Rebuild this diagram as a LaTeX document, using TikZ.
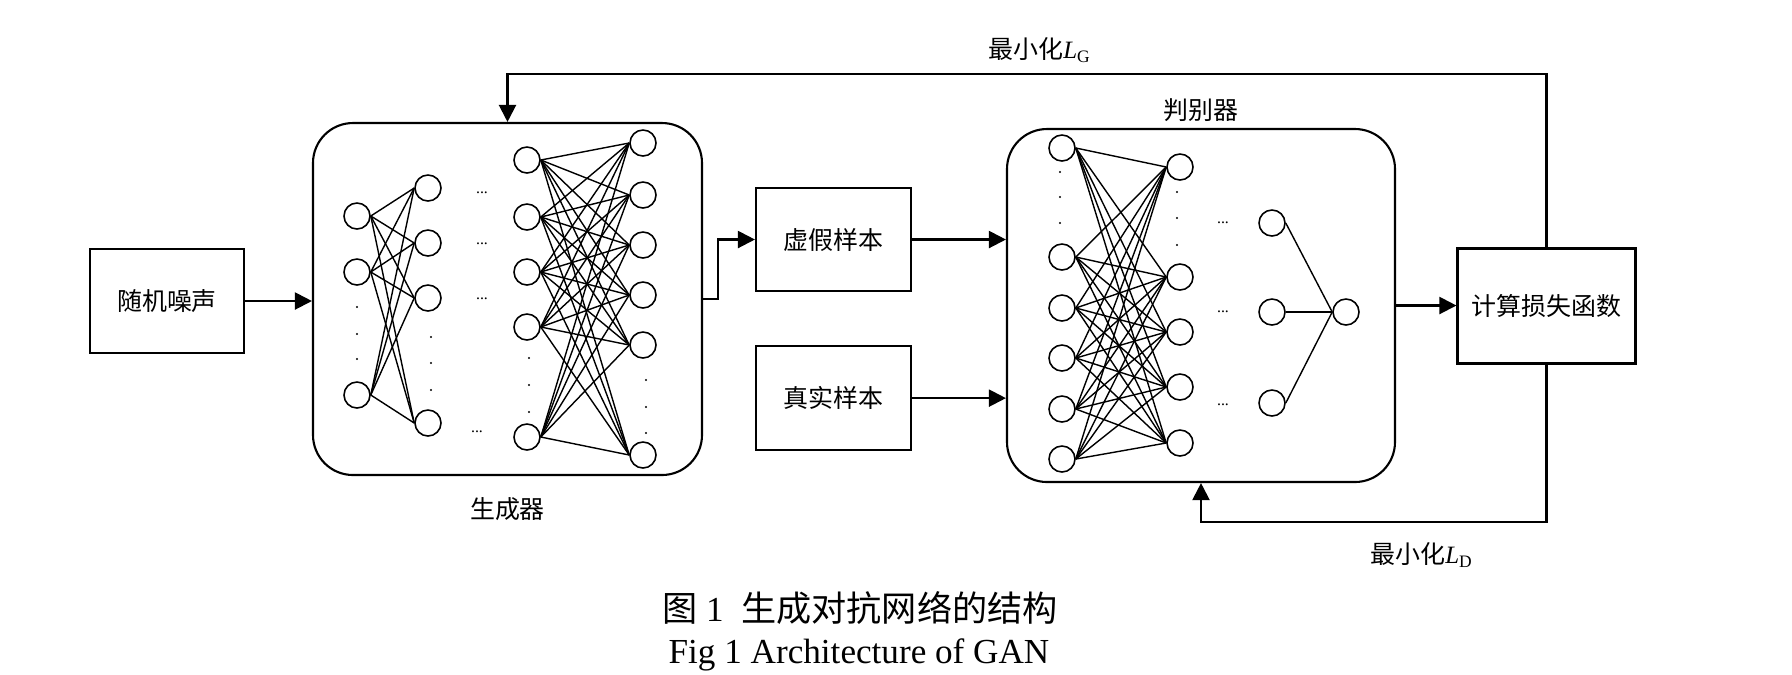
\documentclass[tikz,border=0pt]{standalone}
\usepackage{fontspec}
\setmainfont{Liberation Serif}
\newfontfamily\cjk{Noto Sans CJK SC}
\usepackage{tikz}
\usetikzlibrary{arrows.meta, positioning}

\newcommand{\minloss}[1]{最小化{\rmfamily\itshape L}\textsubscript{\rmfamily #1}}

\begin{document}
\begin{tikzpicture}[
    y=-1cm,
    box/.style={rectangle, draw, line width=0.6pt, inner sep=0pt, font=\cjk\fontsize{7.1}{8}\selectfont},
    net/.style={rectangle, draw, line width=0.6pt, rounded corners=0.4cm, inner sep=0pt},
    neuron/.style={circle, draw, line width=0.45pt, minimum size=0.26cm, inner sep=0pt},
    link/.style={line width=0.4pt},
    tag/.style={inner sep=1pt, font=\cjk\fontsize{7.1}{8}\selectfont},
    hdots/.style={inner sep=0pt, font=\fontsize{4.5}{5}\selectfont},
    caption/.style={inner sep=0pt, font=\fontsize{10}{12}\selectfont},
    arrow/.style={line width=0.6pt, -{Triangle[length=1.7mm, width=1.7mm]}},
]
\useasboundingbox (0,0) rectangle (17.92,6.74);

% Boxes
\node[box, minimum width=1.54cm, minimum height=1.04cm] (noise) at (1.67,3.01) {随机噪声};
\node[net, minimum width=3.89cm, minimum height=3.52cm] (gen) at (5.075,2.99) {};
\node[box, minimum width=1.55cm, minimum height=1.03cm] (fake) at (8.335,2.395) {虚假样本};
\node[box, minimum width=1.55cm, minimum height=1.04cm, below=0.53cm of fake] (real) {真实样本};
\node[net, minimum width=3.88cm, minimum height=3.53cm] (disc) at (12.01,3.055) {};
\node[box, minimum width=1.78cm, minimum height=1.15cm] (loss) at (15.465,3.06) {计算损失函数};

% Generator layers
\foreach \y [count=\i] in {2.16,2.72,3.95} \node[neuron] (ga\i) at (3.57,\y) {};
\foreach \y [count=\i] in {1.88,2.43,2.98,4.23} \node[neuron] (gb\i) at (4.28,\y) {};
\foreach \y [count=\i] in {1.60,2.17,2.72,3.27,4.37} \node[neuron] (gc\i) at (5.27,\y) {};
\foreach \y [count=\i] in {1.43,1.95,2.45,2.95,3.45,4.55} \node[neuron] (gd\i) at (6.43,\y) {};
\foreach \i in {1,...,3} \foreach \j in {1,...,4} \draw[link] (ga\i.east) -- (gb\j.west);
\foreach \i in {1,...,5} \foreach \j in {1,...,6} \draw[link] (gc\i.east) -- (gd\j.west);
\foreach \x/\y [count=\i] in {4.82/1.93, 4.82/2.44, 4.82/2.99, 4.77/4.32} \node[hdots] (gdots\i) at (\x,\y) {...};

% Discriminator layers
\foreach \y [count=\i] in {1.48,2.57,3.08,3.58,4.09,4.59} \node[neuron] (da\i) at (10.62,\y) {};
\foreach \y [count=\i] in {1.67,2.77,3.32,3.87,4.43} \node[neuron] (db\i) at (11.80,\y) {};
\foreach \y [count=\i] in {2.23,3.12,4.03} \node[neuron] (dc\i) at (12.72,\y) {};
\node[neuron] (dout) at (13.46,3.12) {};
\foreach \i in {1,...,6} \foreach \j in {1,...,5} \draw[link] (da\i.east) -- (db\j.west);
\foreach \i in {1,...,3} \draw[link] (dc\i.east) -- (dout.west);
\foreach \y [count=\i] in {2.23,3.12,4.05} \node[hdots] (ddots\i) at (12.23,\y) {...};

% Vertical dots
\foreach \x/\y in {3.57/3.07, 3.57/3.34, 3.57/3.59, 4.31/3.37, 4.31/3.63, 4.31/3.90,
                   5.29/3.58, 5.29/3.85, 5.29/4.12, 6.46/3.80, 6.46/4.07, 6.46/4.33,
                   10.60/1.72, 10.60/1.97, 10.60/2.23, 11.77/1.92, 11.77/2.18, 11.77/2.45}
    \fill (\x,\y) circle[radius=0.3pt];

% Arrows
\coordinate (topline) at (0,0.74);
\coordinate (botline) at (0,5.22);
\draw[arrow] (noise.east) -- (noise.east -| gen.west);
\draw[arrow] (gen.east) -- ++(0.15,0) |- (fake.west);
\draw[arrow] (fake.east) -- (fake.east -| disc.west);
\draw[arrow] (real.east) -- (real.east -| disc.west);
\draw[arrow] (disc.east) -- (disc.east -| loss.west);
\draw[arrow] (loss.north) -- (loss.north |- topline) -| (gen.north);
\draw[arrow] (loss.south) -- (loss.south |- botline) -| (disc.south);

% Labels
\node[tag] (lg) at (10.40,0.50) {\minloss{G}};
\node[tag, above=0.02cm of disc] (disclabel) {判别器};
\node[tag, below=0.17cm of gen] (genlabel) {生成器};
\node[tag] (ld) at (14.22,5.55) {\minloss{D}};

% Caption
\node[caption] (cap1) at (8.60,6.08) {{\cjk 图} 1\hspace{5pt}{\cjk 生成对抗网络的结构}};
\node[caption] (cap2) at (8.59,6.55) {Fig 1 Architecture of GAN};

\end{tikzpicture}
\end{document}
